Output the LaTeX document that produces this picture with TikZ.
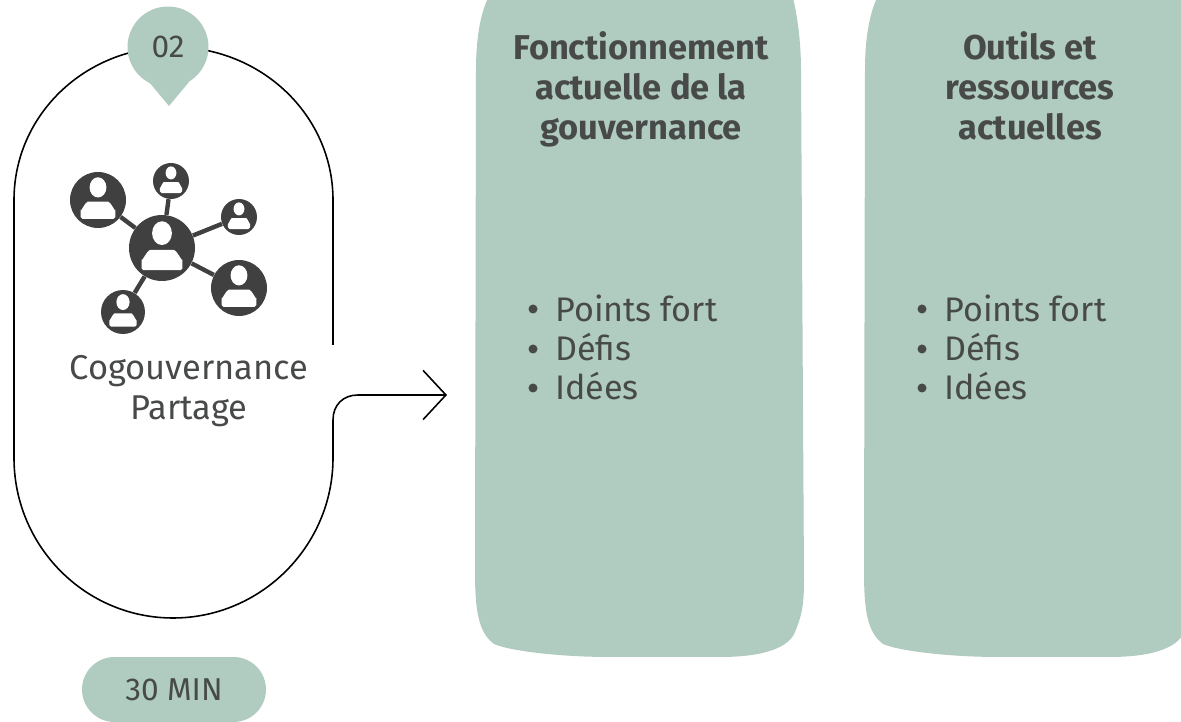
\documentclass[tikz,border=0pt]{standalone}
\usepackage{fontspec}
\setmainfont{Fira Sans}
\usetikzlibrary{arrows.meta}
\definecolor{sage}{HTML}{B0CBBF}
\definecolor{icondark}{HTML}{404040}
\definecolor{textdark}{HTML}{474A49}
\tikzset{
  badgetext/.style={text=textdark,font=\fontsize{18}{18}\selectfont},
  heading/.style={text=textdark,align=center,anchor=north,font=\fontsize{19.6}{22.8}\selectfont\bfseries},
  bullets/.style={text=textdark,align=left,anchor=west,inner sep=0pt,font=\fontsize{19.4}{22.4}\selectfont},
  userdot/.style={circle,fill=icondark,inner sep=0pt},
  person/.pic={
    \fill[white] (0,-.45) ellipse (.3 and .36);
    \fill[white,rounded corners=1pt] (-.62,.67) -- (-.62,.3) to[out=-90,in=180] (-.3,.06) -- (.3,.06) to[out=0,in=-90] (.62,.3) -- (.62,.67) -- cycle;
  }
}
\begin{document}
\begin{tikzpicture}[x=.02cm,y=-.02cm]
  \useasboundingbox (0,0) rectangle (1181,722);
  % outline and arrow
  \draw[line width=.9pt,-{Straight Barb[length=13pt,width=28pt]}] (333,345) -- (333,200)
    .. controls (333,115) and (261,47) .. (173,47)
    .. controls (85,47) and (14,115) .. (14,200) -- (14,458)
    .. controls (14,546) and (85,618) .. (173,618)
    .. controls (261,618) and (333,546) .. (333,458) -- (333,420)
    .. controls (333,405) and (343,395) .. (358,395) -- (447,395);
  % number badge
  \fill[sage] (149,82) -- (169,106) -- (189,82) -- cycle;
  \node[circle,fill=sage,inner sep=0pt,minimum size=1.62cm,badgetext] (badge) at (168,47) {02};
  % users
  \node[userdot,minimum size=1.32cm] (hub) at (162,248) {};
  \foreach \nm/\px/\py/\dia in {ua/98/200/1.12cm,ub/171/181/.72cm,uc/239/217/.72cm,ud/239/288/1.12cm,ue/123/312/.88cm}
    \node[userdot,minimum size=\dia] (\nm) at (\px,\py) {};
  \foreach \nm in {ua,ub,uc,ud,ue}
    \draw[icondark,line width=2.5pt] (hub) -- (\nm);
  \pic[scale=33] at (hub) {person};
  \pic[scale=28] at (ua) {person};
  \pic[scale=18] at (ub) {person};
  \pic[scale=18] at (uc) {person};
  \pic[scale=28] at (ud) {person};
  \pic[scale=22] at (ue) {person};
  \node[text=textdark,align=center,font=\fontsize{19.6}{22.8}\selectfont] (caption) at (189,391) {Cogouvernance\\Partage};
  % time
  \node[fill=sage,rounded corners=.65cm,minimum width=3.68cm,minimum height=1.3cm,inner sep=0pt,badgetext] (time) at (174,689.5) {30 MIN};
  % panels
  \foreach \dx in {0,389}{
    \begin{scope}[xshift=\dx*.02cm]
      \fill[sage] (488,-2) .. controls (480,15) and (476,40) .. (476,70) -- (475,570)
        .. controls (475,610) and (478,632) .. (494,644)
        .. controls (510,651) and (560,657) .. (610,657) -- (720,657)
        .. controls (770,657) and (790,645) .. (795,632)
        .. controls (802,615) and (804,605) .. (804,580) -- (801,70)
        .. controls (801,40) and (797,15) .. (793,-2) -- cycle;
      \foreach \py in {309,349,388}
        \fill[textdark] (533,\py) circle (4.5);
    \end{scope}
  }
  \node[heading] (titlea) at (641,25) {Fonctionnement\\actuelle de la\\gouvernance};
  \node[heading] (titleb) at (1030,25) {Outils et\\ressources\\actuelles};
  \node[bullets] (lista) at (555,347.5) {Points fort\\Défis\\Idées};
  \node[bullets] (listb) at (944,347.5) {Points fort\\Défis\\Idées};
\end{tikzpicture}
\end{document}
